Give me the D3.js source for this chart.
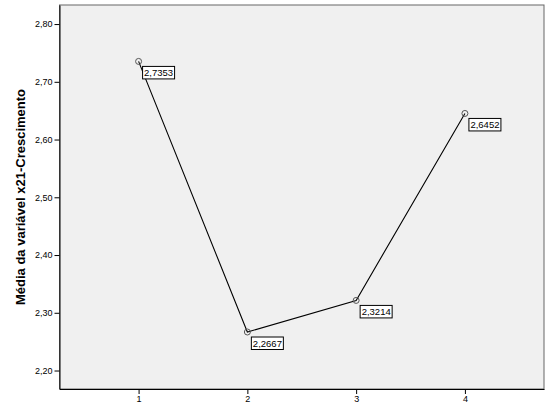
<!DOCTYPE html>
<html>
<head>
<meta charset="utf-8">
<script src="https://cdn.jsdelivr.net/npm/d3@7"></script>
<style>
  body { margin: 0; background: #fff; }
  text { font-family: "Liberation Sans", Arial, sans-serif; }
</style>
</head>
<body>
<div id="chart"></div>
<script>
// data
var categories = [1, 2, 3, 4];
var means = [2.7353, 2.2667, 2.3214, 2.6452];
var yTicks = [2.20, 2.30, 2.40, 2.50, 2.60, 2.70, 2.80];
var yTitle = "Média da variável x21-Crescimento";

var margin = {top: 5, right: 7, bottom: 18, left: 59.5},
    width = 551 - margin.left - margin.right,
    height = 407 - margin.top - margin.bottom;

var xScale = d3.scaleLinear().domain([0.273, 4.727]).range([0, width]);
var yScale = d3.scaleLinear().domain([2.168, 2.833]).range([height, 0]);

var svg = d3.select("#chart").append("svg")
    .attr("width", 551)
    .attr("height", 407)
  .append("g")
    .attr("transform", "translate(" + margin.left + "," + margin.top + ")");

// plot background
svg.append("rect")
    .attr("width", width)
    .attr("height", height)
    .attr("fill", "#f0f0f0")
    .attr("stroke", "#666")
    .attr("stroke-width", 1);

var fmt = function(d) { return d3.format(".2f")(d).replace(".", ","); };

// Y axis
var yAxis = svg.append("g")
    .call(d3.axisLeft(yScale).tickValues(yTicks).tickSize(5).tickSizeOuter(0).tickFormat(fmt));
yAxis.select(".domain").attr("stroke", "#000");
yAxis.selectAll("text").style("font-size", "9px").attr("fill", "#000").attr("x", -7);

// X axis
var xAxis = svg.append("g")
    .attr("transform", "translate(0," + height + ")")
    .call(d3.axisBottom(xScale).tickValues(categories).tickSize(5).tickSizeOuter(0).tickFormat(d3.format("d")));
xAxis.select(".domain").attr("stroke", "#000");
xAxis.selectAll("text").style("font-size", "9px").attr("fill", "#000").attr("y", 7);

// Y title
svg.append("text")
    .attr("transform", "rotate(-90)")
    .attr("x", -height / 2)
    .attr("y", -35)
    .style("text-anchor", "middle")
    .style("font-size", "13px")
    .style("font-weight", "bold")
    .text(yTitle);

var points = categories.map(function(c, i) { return {x: c, y: means[i]}; });

var line = d3.line()
    .x(function(d) { return xScale(d.x); })
    .y(function(d) { return yScale(d.y); });

svg.append("path")
    .datum(points)
    .attr("fill", "none")
    .attr("stroke", "#000")
    .attr("stroke-width", 1.1)
    .attr("d", line);

svg.selectAll(".dot")
    .data(points)
  .enter().append("circle")
    .attr("class", "dot")
    .attr("r", 3)
    .attr("cx", function(d) { return xScale(d.x); })
    .attr("cy", function(d) { return yScale(d.y); })
    .attr("fill", "none")
    .attr("stroke", "#555")
    .attr("stroke-width", 1);

// value labels
var lab = svg.selectAll(".lab")
    .data(points)
  .enter().append("g")
    .attr("class", "lab")
    .attr("transform", function(d) {
      return "translate(" + (xScale(d.x) + 4) + "," + (yScale(d.y) + 5) + ")";
    });

lab.append("rect")
    .attr("width", 32)
    .attr("height", 12.5)
    .attr("fill", "#fff")
    .attr("stroke", "#000")
    .attr("stroke-width", 1);

lab.append("text")
    .attr("x", 1.5)
    .attr("y", 10)
    .style("font-size", "9.5px")
    .text(function(d) { return d3.format(".4f")(d.y).replace(".", ","); });
</script>
</body>
</html>
